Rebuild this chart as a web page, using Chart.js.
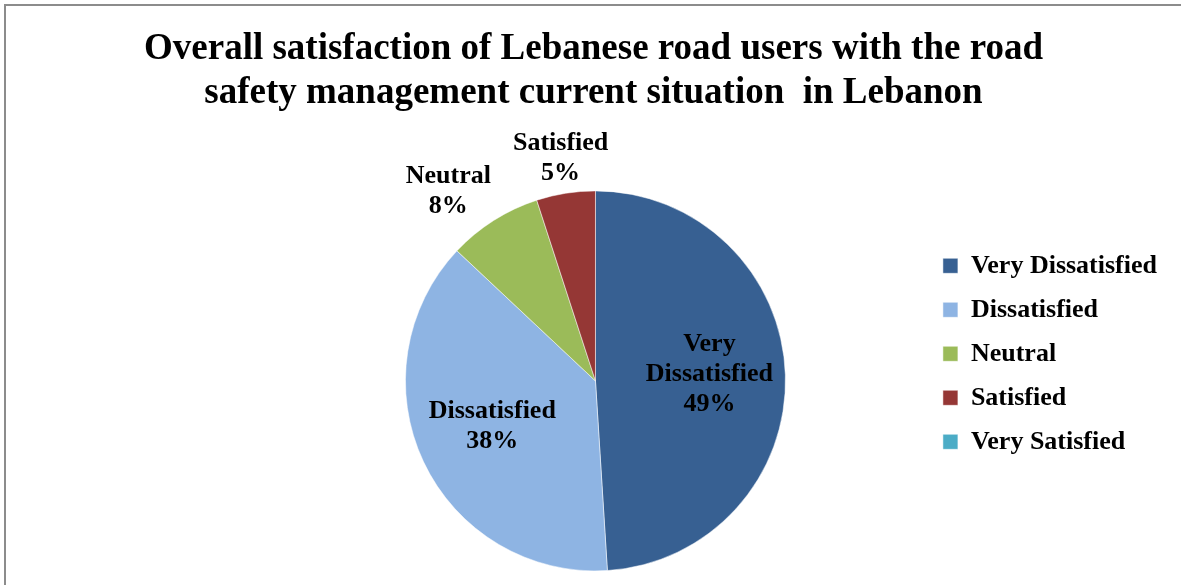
<!DOCTYPE html>
<html>
<head>
<meta charset="utf-8">
<script src="https://cdn.jsdelivr.net/npm/chart.js@4.4.1/dist/chart.umd.min.js"></script>
<style>
  html, body { margin: 0; padding: 0; background: #fff; }
  #wrap { position: relative; width: 1181px; height: 585px; }
  #frame { position: absolute; left: 4px; top: 4px; right: 0; bottom: 0;
           border-left: 2px solid #8c8c8c; border-top: 2px solid #8c8c8c; pointer-events: none; }
</style>
</head>
<body>
<div id="wrap">
  <canvas id="chart" width="1181" height="585"></canvas>
  <div id="frame"></div>
</div>
<script>
const categories = ['Very Dissatisfied', 'Dissatisfied', 'Neutral', 'Satisfied', 'Very Satisfied'];
const shares = [49, 38, 8, 5, 0];
const sliceColors = ['#376092', '#8eb4e3', '#9bbb59', '#953735', '#4bacc6'];
const titleLines = [
  'Overall satisfaction of Lebanese road users with the road',
  'safety management current situation  in Lebanon'
];

const serif = '"Liberation Serif", "Times New Roman", serif';

// empty box on the left so the pie sits where it does in the original
const leftSpacer = {
  id: 'leftSpacer',
  beforeInit(chart) {
    Chart.layouts.addBox(chart, {
      position: 'left', weight: 0, fullSize: false, options: {},
      left: 0, top: 0, right: 0, bottom: 0, width: 0, height: 0,
      isHorizontal() { return false; },
      update(maxWidth, maxHeight) { this.width = 246; this.height = maxHeight; },
      draw() {}
    });
  }
};

function wrapText(ctx, text, maxWidth) {
  const words = text.split(' ');
  const lines = [];
  let line = '';
  words.forEach(w => {
    const test = line ? line + ' ' + w : w;
    if (line && ctx.measureText(test).width > maxWidth) {
      lines.push(line);
      line = w;
    } else {
      line = test;
    }
  });
  if (line) lines.push(line);
  return lines;
}

// category name + percentage on each slice
const sliceLabels = {
  id: 'sliceLabels',
  afterDatasetsDraw(chart) {
    const ctx = chart.ctx;
    const data = chart.data.datasets[0].data;
    const total = data.reduce((a, b) => a + b, 0);
    const lh = 30;
    ctx.save();
    ctx.font = 'bold 26px ' + serif;
    ctx.fillStyle = '#000';
    ctx.textAlign = 'center';
    ctx.textBaseline = 'middle';
    chart.getDatasetMeta(0).data.forEach((arc, i) => {
      if (!data[i]) return;
      const p = arc.getProps(['x', 'y', 'startAngle', 'endAngle', 'outerRadius'], true);
      const mid = (p.startAngle + p.endAngle) / 2;
      const dx = Math.cos(mid), dy = Math.sin(mid);
      const inside = data[i] / total > 0.15;
      const lines = wrapText(ctx, chart.data.labels[i], inside ? 150 : 400);
      lines.push(Math.round(data[i] / total * 100) + '%');
      const h = lines.length * lh;
      let cx, cy;
      if (inside) {
        cx = p.x + dx * p.outerRadius * 0.6;
        cy = p.y + dy * p.outerRadius * 0.6 - 3;
      } else {
        // outside: box pushed away from the pie edge
        const w = Math.max(...lines.map(l => ctx.measureText(l).width));
        const ax = p.x + dx * (p.outerRadius + 5);
        const ay = p.y + dy * (p.outerRadius + 5);
        const hx = Math.sign(dx) * Math.min(1, Math.max(0, (Math.abs(dx) - 0.12) * 2.5));
        cx = ax + hx * w / 2;
        cy = ay + dy * h / 2;
      }
      lines.forEach((l, k) => ctx.fillText(l, cx, cy - h / 2 + lh / 2 + k * lh));
    });
    ctx.restore();
  }
};

new Chart(document.getElementById('chart'), {
  type: 'pie',
  data: {
    labels: categories,
    datasets: [{
      data: shares,
      backgroundColor: sliceColors,
      borderColor: '#ffffff',
      borderWidth: 0.5,
      hoverOffset: 0,
      radius: 190
    }]
  },
  options: {
    responsive: false,
    animation: false,
    layout: { padding: { left: 20, right: 14, top: 8, bottom: 14 } },
    plugins: {
      title: {
        display: true,
        text: titleLines,
        color: '#000',
        font: { family: serif, size: 37, weight: 'bold', lineHeight: 1.2 },
        padding: { top: 19, bottom: 75 }
      },
      legend: {
        position: 'right',
        align: 'start',
        fullSize: false,
        title: { display: true, text: '', font: { size: 1, lineHeight: 1 }, padding: { top: 43, bottom: 0 } },
        labels: {
          color: '#000',
          font: { family: serif, size: 26, weight: 'bold', lineHeight: 1 },
          boxWidth: 15,
          boxHeight: 15,
          padding: 18
        }
      },
      tooltip: { enabled: false }
    }
  },
  plugins: [leftSpacer, sliceLabels]
});
</script>
</body>
</html>
